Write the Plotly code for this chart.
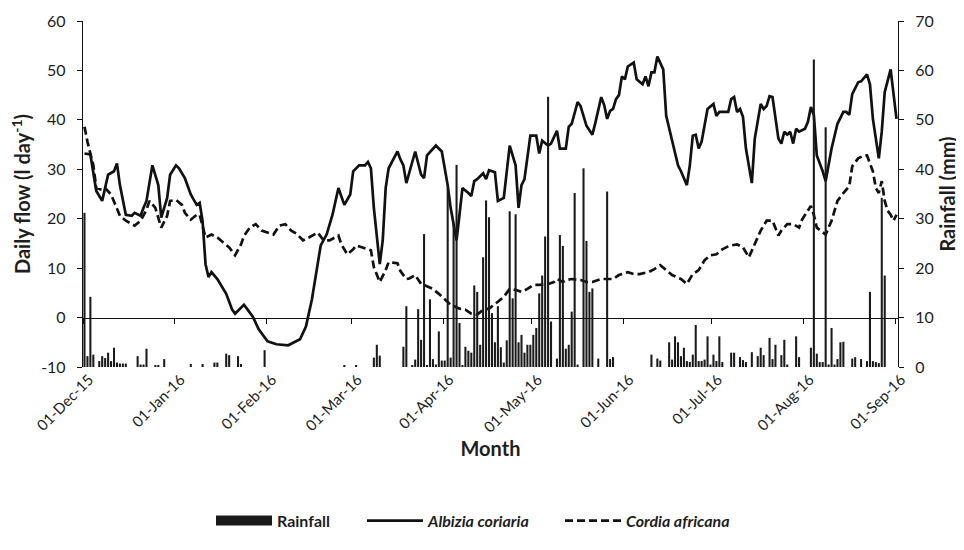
import pandas as pd
import plotly.graph_objects as go

START = "2015-12-01"

# Albizia coriaria daily flow (l day-1), days since 1 Dec 2015
albizia_day = [0, 2, 4, 6, 8, 10, 11, 12, 14, 16, 17, 19, 20, 21, 23, 25, 26, 28, 29, 31,
               32, 34, 36, 38, 39, 40, 41, 42, 43, 45, 48, 50, 51, 54, 55, 57, 59, 62, 65, 69,
               73, 75, 77, 79, 80, 82, 84, 86, 88, 90, 91, 93, 95, 96, 97, 98, 100, 101, 102, 103,
               106, 107, 108, 109, 111, 112, 114, 115, 116, 119, 121, 123, 124, 126, 127, 128, 130, 131, 132, 133,
               135, 136, 137, 139, 140, 142, 144, 146, 147, 148, 149, 151, 153, 154, 155, 157, 158, 160, 161, 163,
               164, 165, 167, 168, 170, 172, 173, 175, 176, 177, 178, 179, 180, 181, 182, 183, 184, 186, 187, 189,
               190, 191, 192, 193, 194, 196, 197, 199, 201, 202, 204, 205, 206, 207, 208, 209, 211, 213, 214, 215,
               218, 219, 220, 221, 222, 223, 224, 226, 227, 229, 230, 231, 232, 233, 235, 236, 237, 238, 239, 240,
               241, 242, 244, 245, 246, 247, 248, 250, 251, 253, 255, 257, 258, 259, 260, 262, 263, 265, 266, 267,
               269, 270, 271, 273, 274, 275]
albizia_flow = [33.2, 33.0, 25.6, 23.6, 28.9, 29.6, 31.2, 26.8, 20.8, 20.6, 21.2, 20.6, 22.2, 23.6, 30.8, 26.8, 20.2, 24.2, 28.9, 30.8,
                30.2, 28.2, 24.9, 22.8, 23.2, 19.5, 10.8, 8.2, 9.2, 7.8, 4.8, 1.6, 0.8, 2.6, 1.8, 0.2, -2.4, -4.8, -5.4, -5.6,
                -4.4, -1.8, 3.6, 10.8, 14.6, 16.8, 20.8, 26.2, 22.8, 24.9, 29.6, 30.8, 30.8, 31.5, 30.2, 22.2, 10.8, 15.6, 26.2, 30.2,
                33.6, 32.0, 30.8, 27.2, 31.5, 33.6, 28.9, 28.2, 32.8, 34.8, 33.6, 26.8, 22.2, 15.6, 20.8, 26.2, 25.2, 24.6, 27.6, 28.0,
                29.2, 28.0, 29.8, 29.4, 23.6, 24.2, 34.8, 30.8, 22.2, 26.8, 28.0, 36.8, 36.8, 33.2, 35.8, 34.8, 35.2, 37.8, 34.2, 34.2,
                38.6, 39.2, 43.6, 42.8, 38.8, 37.0, 39.4, 44.6, 43.0, 40.2, 41.8, 42.2, 44.2, 45.0, 48.8, 48.2, 50.8, 51.6, 48.2, 47.2,
                48.8, 46.8, 49.6, 49.6, 52.8, 50.2, 40.8, 35.6, 30.8, 29.6, 26.8, 30.8, 36.8, 37.0, 34.2, 35.6, 42.2, 43.2, 40.8, 41.6,
                41.6, 44.2, 44.6, 41.6, 42.2, 40.6, 34.2, 27.2, 36.2, 43.2, 42.2, 42.8, 44.8, 44.6, 36.2, 35.2, 37.6, 37.0, 37.6, 35.2,
                38.2, 37.6, 38.2, 39.6, 42.6, 41.0, 32.8, 29.6, 27.6, 34.2, 39.2, 41.6, 41.6, 41.0, 45.2, 47.6, 47.8, 49.2, 47.2, 40.2,
                32.2, 37.6, 45.6, 50.2, 44.8, 40.2]

# Cordia africana daily flow (l day-1)
cordia_day = [0, 1, 3, 4, 6, 7, 9, 11, 12, 14, 16, 17, 19, 21, 22, 24, 26, 28, 29, 31,
              33, 34, 36, 38, 39, 40, 41, 43, 45, 47, 49, 51, 53, 54, 56, 58, 60, 64, 66, 68,
              70, 72, 74, 76, 79, 81, 83, 86, 87, 89, 91, 92, 94, 97, 98, 100, 102, 103, 106, 107,
              109, 110, 112, 114, 115, 118, 120, 122, 124, 127, 129, 131, 133, 135, 137, 140, 142, 144, 146, 148,
              150, 152, 154, 157, 159, 160, 162, 163, 165, 168, 170, 172, 175, 177, 179, 181, 184, 186, 188, 191,
              193, 195, 197, 199, 202, 204, 206, 208, 210, 212, 214, 216, 218, 219, 221, 223, 225, 227, 229, 231,
              233, 235, 236, 238, 240, 242, 243, 246, 247, 248, 250, 251, 253, 255, 257, 259, 260, 262, 264, 265,
              267, 268, 269, 270, 271, 272, 273, 274, 275]
cordia_flow = [38.6, 35.6, 30.8, 26.2, 25.8, 26.2, 24.9, 21.8, 20.6, 19.6, 18.9, 18.6, 19.6, 21.8, 23.6, 22.2, 18.2, 20.6, 23.6, 23.8,
               22.8, 21.2, 19.8, 20.8, 20.8, 18.2, 16.2, 16.8, 16.2, 15.2, 14.2, 12.6, 14.8, 16.5, 18.2, 18.9, 17.6, 16.8, 18.6, 18.9,
               17.6, 16.9, 15.6, 16.2, 17.2, 15.6, 15.6, 16.6, 14.8, 12.8, 13.8, 14.6, 14.2, 13.6, 10.2, 7.2, 9.6, 11.2, 11.0, 9.4,
               7.8, 7.9, 8.6, 6.8, 6.6, 5.8, 4.8, 3.6, 2.6, 1.8, 1.6, 0.8, 0.6, 1.6, 1.8, 3.2, 4.2, 5.8, 5.6, 5.2,
               5.8, 6.6, 6.6, 6.8, 7.2, 7.8, 7.2, 7.6, 7.8, 7.6, 7.2, 7.2, 7.8, 7.8, 7.8, 8.6, 9.2, 8.8, 8.8, 9.2,
               9.8, 10.6, 9.6, 8.6, 7.8, 6.8, 8.8, 9.6, 11.6, 12.6, 12.8, 13.8, 14.4, 14.6, 14.8, 14.2, 12.2, 14.8, 17.6, 19.6,
               19.6, 16.6, 17.6, 18.9, 18.9, 18.2, 19.8, 22.6, 20.8, 18.2, 17.2, 16.8, 19.6, 23.6, 25.2, 26.6, 30.6, 32.2, 32.8, 32.8,
               29.6, 26.2, 25.2, 27.6, 23.6, 21.6, 20.8, 19.6, 20.8]

# Rainfall (mm)
rain_day = [0, 1, 2, 3, 5, 6, 7, 8, 9, 10, 11, 12, 13, 14, 18, 19, 20, 21, 24, 25,
            27, 36, 40, 44, 45, 48, 49, 52, 53, 61, 88, 92, 98, 99, 100, 108, 109, 111, 112, 113,
            114, 115, 116, 117, 118, 119, 120, 121, 122, 123, 124, 125, 126, 127, 128, 129, 130, 131, 132, 133,
            134, 135, 136, 137, 138, 139, 140, 141, 142, 143, 144, 145, 146, 147, 148, 149, 150, 151, 152, 153,
            154, 155, 156, 157, 158, 160, 161, 162, 163, 164, 165, 166, 167, 169, 170, 171, 172, 174, 177, 178,
            179, 192, 194, 195, 198, 199, 200, 201, 202, 203, 204, 205, 206, 207, 208, 209, 210, 211, 212, 213,
            214, 215, 216, 219, 220, 222, 223, 224, 226, 228, 229, 230, 232, 233, 234, 236, 237, 238, 241, 242,
            246, 247, 248, 249, 250, 251, 252, 253, 254, 255, 256, 257, 260, 261, 263, 265, 266, 267, 268, 269,
            270, 271]
rain_mm = [31.2, 2.2, 14.2, 2.5, 1.2, 2.2, 1.8, 2.9, 1.2, 3.9, 0.9, 0.7, 0.7, 0.7, 2.2, 0.5, 0.5, 3.7, 0.4, 0.4,
           1.6, 0.6, 0.6, 0.9, 0.9, 2.7, 2.4, 2.2, 0.6, 3.4, 0.3, 0.3, 1.9, 4.5, 2.3, 4.1, 12.3, 0.3, 1.5, 11.7,
           5.5, 26.9, 0.4, 13.7, 1.6, 0.5, 7.2, 1.3, 1.3, 36.2, 1.9, 29.0, 40.9, 8.9, 0.4, 4.1, 3.3, 2.9, 16.5, 15.2,
           4.5, 22.2, 33.7, 30.3, 10.9, 5.0, 12.3, 4.0, 0.9, 5.4, 31.5, 13.9, 30.9, 5.0, 6.5, 2.9, 4.5, 4.5, 6.5, 7.9,
           14.9, 18.5, 26.4, 54.7, 9.2, 1.7, 26.7, 24.5, 3.7, 4.5, 11.2, 35.2, 0.5, 40.2, 25.5, 15.2, 15.9, 1.7, 35.5, 1.6,
           2.0, 2.5, 1.7, 1.3, 5.0, 1.5, 6.2, 5.0, 2.2, 3.9, 1.2, 1.0, 2.5, 8.5, 1.2, 1.2, 1.5, 6.2, 0.5, 2.5,
           1.2, 6.2, 1.0, 2.9, 2.9, 2.0, 1.4, 1.0, 3.0, 2.2, 3.9, 2.4, 5.9, 1.6, 4.5, 2.4, 5.5, 0.5, 6.2, 2.0,
           3.9, 62.2, 2.7, 1.0, 1.0, 48.5, 0.5, 7.9, 0.5, 1.6, 5.0, 5.1, 1.7, 2.0, 1.6, 1.2, 15.2, 1.2, 1.0, 0.8,
           34.2, 18.5]

flow_ticks = [-10, 0, 10, 20, 30, 40, 50, 60]
flow_tick_labels = ["-10", "0", "10", "20", "30", "40", "50", "60"]
rain_ticks = [0, 10, 20, 30, 40, 50, 60, 70]
rain_tick_labels = ["0", "10", "20", "30", "40", "50", "60", "70"]

assert len(albizia_day) == len(albizia_flow)
assert len(cordia_day) == len(cordia_flow)
assert len(rain_day) == len(rain_mm)


def to_dates(days):
    return pd.Timestamp(START) + pd.to_timedelta(days, unit="D") + pd.Timedelta(hours=12)


FONT = "Lato, 'Open Sans', sans-serif"
TXT = "#1e1e1e"
INK = "#111111"

fig = go.Figure()
fig.add_trace(go.Bar(x=to_dates(rain_day), y=rain_mm, name="<b>Rainfall</b>", legendgroup="rain",
                     showlegend=False, marker=dict(color="#1a1a1a", line=dict(width=0)), yaxis="y2"))
# legend-only entry drawn as a thick block like the reference's rainfall key
fig.add_trace(go.Scatter(x=[None], y=[None], name="<b>Rainfall</b>", legendgroup="rain", legend="legend",
                         mode="lines", line=dict(color="#1a1a1a", width=13), yaxis="y2"))
fig.add_trace(go.Scatter(x=to_dates(albizia_day), y=albizia_flow, name="<b><i>Albizia coriaria</i></b>",
                         legend="legend2", mode="lines", line=dict(color=INK, width=2.7)))
fig.add_trace(go.Scatter(x=to_dates(cordia_day), y=cordia_flow, name="<b><i>Cordia africana</i></b>",
                         legend="legend3", mode="lines", line=dict(color=INK, width=2.7, dash="8px,4px")))
# invisible helper trace so the zero-line axis (x2) is drawn
fig.add_trace(go.Scatter(x=to_dates(albizia_day), y=albizia_flow, xaxis="x2", yaxis="y",
                         mode="lines", line=dict(width=0, color="rgba(0,0,0,0)"),
                         showlegend=False, hoverinfo="skip"))

xr = [pd.Timestamp(START), pd.Timestamp("2016-09-02")]


def px_to_paper(px):
    return (px - 83) / 815.0


leg_common = dict(orientation="h", xanchor="left", y=-0.395, yanchor="top",
                  font=dict(family=FONT, size=16, color=TXT), itemwidth=56,
                  bgcolor="rgba(0,0,0,0)")

fig.update_layout(
    width=956, height=542,
    margin=dict(l=75, r=66, t=13, b=179),
    paper_bgcolor="white", plot_bgcolor="white",
    font=dict(family=FONT, color=TXT, size=16),
    bargap=0.3,
    showlegend=True,
    legend=dict(x=px_to_paper(211), **leg_common),
    legend2=dict(x=px_to_paper(362), **leg_common),
    legend3=dict(x=px_to_paper(560), **leg_common),
    xaxis=dict(type="date", range=xr, tick0=START, dtick="M1", tickformat="%d-%b-%y",
               tickangle=-45, showline=False, ticks="", showgrid=False, zeroline=False,
               automargin=False, ticklabelshift=6,
               tickfont=dict(family=FONT, size=15, color=TXT),
               title=dict(text="<b>Month</b>", font=dict(family=FONT, size=20, color=TXT), standoff=7)),
    xaxis2=dict(type="date", range=xr, tick0=START, dtick="M1", overlaying="x", anchor="free",
                position=1 / 7, showline=True, linecolor=INK, linewidth=1.3,
                ticks="outside", ticklen=5, tickcolor=INK, tickwidth=1.3, automargin=False,
                showticklabels=False, showgrid=False, zeroline=False),
    yaxis=dict(range=[-10, 60], tickvals=flow_ticks, ticktext=flow_tick_labels,
               showline=True, linecolor=INK, linewidth=1.3, ticks="outside", ticklen=5,
               tickcolor=INK, tickwidth=1.3, showgrid=False, zeroline=False,
               automargin=False, ticklabelstandoff=8,
               tickfont=dict(family=FONT, size=16, color=TXT),
               title=dict(text="<b>Daily flow (l day<sup>-1</sup>)</b>",
                          font=dict(family=FONT, size=20, color=TXT), standoff=8)),
    yaxis2=dict(range=[0, 70], tickvals=rain_ticks, ticktext=rain_tick_labels,
                overlaying="y", side="right", anchor="x",
                showline=True, linecolor=INK, linewidth=1.3, ticks="outside", ticklen=5,
                tickcolor=INK, tickwidth=1.3, showgrid=False, zeroline=False,
                automargin=False, ticklabelstandoff=8,
                tickfont=dict(family=FONT, size=16, color=TXT),
                title=dict(text="<b>Rainfall (mm)</b>", font=dict(family=FONT, size=20, color=TXT),
                           standoff=8)),
)

fig.write_html("out.html")
